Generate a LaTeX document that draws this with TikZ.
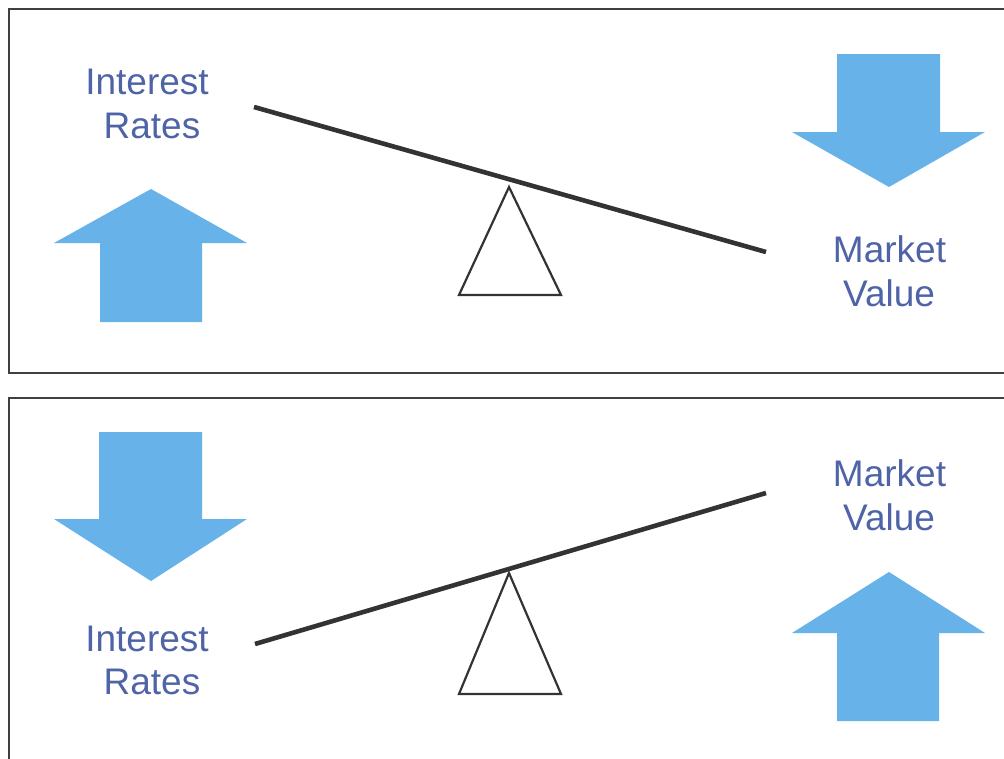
\documentclass[tikz,border=0pt]{standalone}
\usepackage{fontspec}
\setmainfont{Liberation Sans}
\definecolor{labelblue}{RGB}{78,100,166}
\definecolor{arrowblue}{RGB}{103,178,233}
\definecolor{beamgray}{RGB}{51,51,51}
\definecolor{framegray}{RGB}{64,64,64}
\tikzset{
  panel/.style={draw=framegray, line width=1.6pt},
  beam/.style={draw=beamgray, line width=4.6pt},
  fulcrum/.style={draw=beamgray, line width=2.2pt, line join=miter},
  blockarrow/.style={fill=arrowblue, draw=none},
  lbl/.style={text=labelblue, font=\fontsize{37}{44}\selectfont, anchor=base, inner sep=0pt}
}
\begin{document}
\begin{tikzpicture}[x=1pt, y=-1pt]
  \useasboundingbox (0,0) rectangle (1004,758);

  % panel frames (right/bottom edges run past the page)
  \draw[panel] (9,9) rectangle (1020,373);
  \draw[panel] (9,398) rectangle (1020,775);

  % ---------- upper panel: rates up, value down ----------
  \node[lbl] (ir1a) at (147,94) {Interest};
  \node[lbl] (ir1b) at (152,138) {Rates};
  \node[lbl] (mv1a) at (889.5,262) {Market};
  \node[lbl] (mv1b) at (889,306) {Value};

  \coordinate (b1l) at (254,107);
  \coordinate (b1r) at (766,252);
  \draw[beam] (b1l) -- (b1r);
  \coordinate (t1a) at (509,187);
  \coordinate (t1l) at (459,295);
  \coordinate (t1r) at (561,295);
  \draw[fulcrum] (t1a) -- (t1l) -- (t1r) -- cycle;

  \fill[blockarrow] (151,189) -- (247,243) -- (202,243) -- (202,322)
    -- (100,322) -- (100,243) -- (54,243) -- cycle;
  \fill[blockarrow] (889,187) -- (985,132) -- (940,132) -- (940,54)
    -- (837,54) -- (837,132) -- (792,132) -- cycle;

  % ---------- lower panel: rates down, value up ----------
  \node[lbl] (mv2a) at (889.5,486) {Market};
  \node[lbl] (mv2b) at (889,530) {Value};
  \node[lbl] (ir2a) at (147,651) {Interest};
  \node[lbl] (ir2b) at (152,694) {Rates};

  \coordinate (b2l) at (255,644);
  \coordinate (b2r) at (766,493);
  \draw[beam] (b2l) -- (b2r);
  \coordinate (t2a) at (509,573);
  \coordinate (t2l) at (459,694);
  \coordinate (t2r) at (561,694);
  \draw[fulcrum] (t2a) -- (t2l) -- (t2r) -- cycle;

  \fill[blockarrow] (151,581) -- (247,519) -- (202,519) -- (202,432)
    -- (99,432) -- (99,519) -- (54,519) -- cycle;
  \fill[blockarrow] (889,572) -- (985,633) -- (939,633) -- (939,721)
    -- (837,721) -- (837,633) -- (792,633) -- cycle;
\end{tikzpicture}
\end{document}
